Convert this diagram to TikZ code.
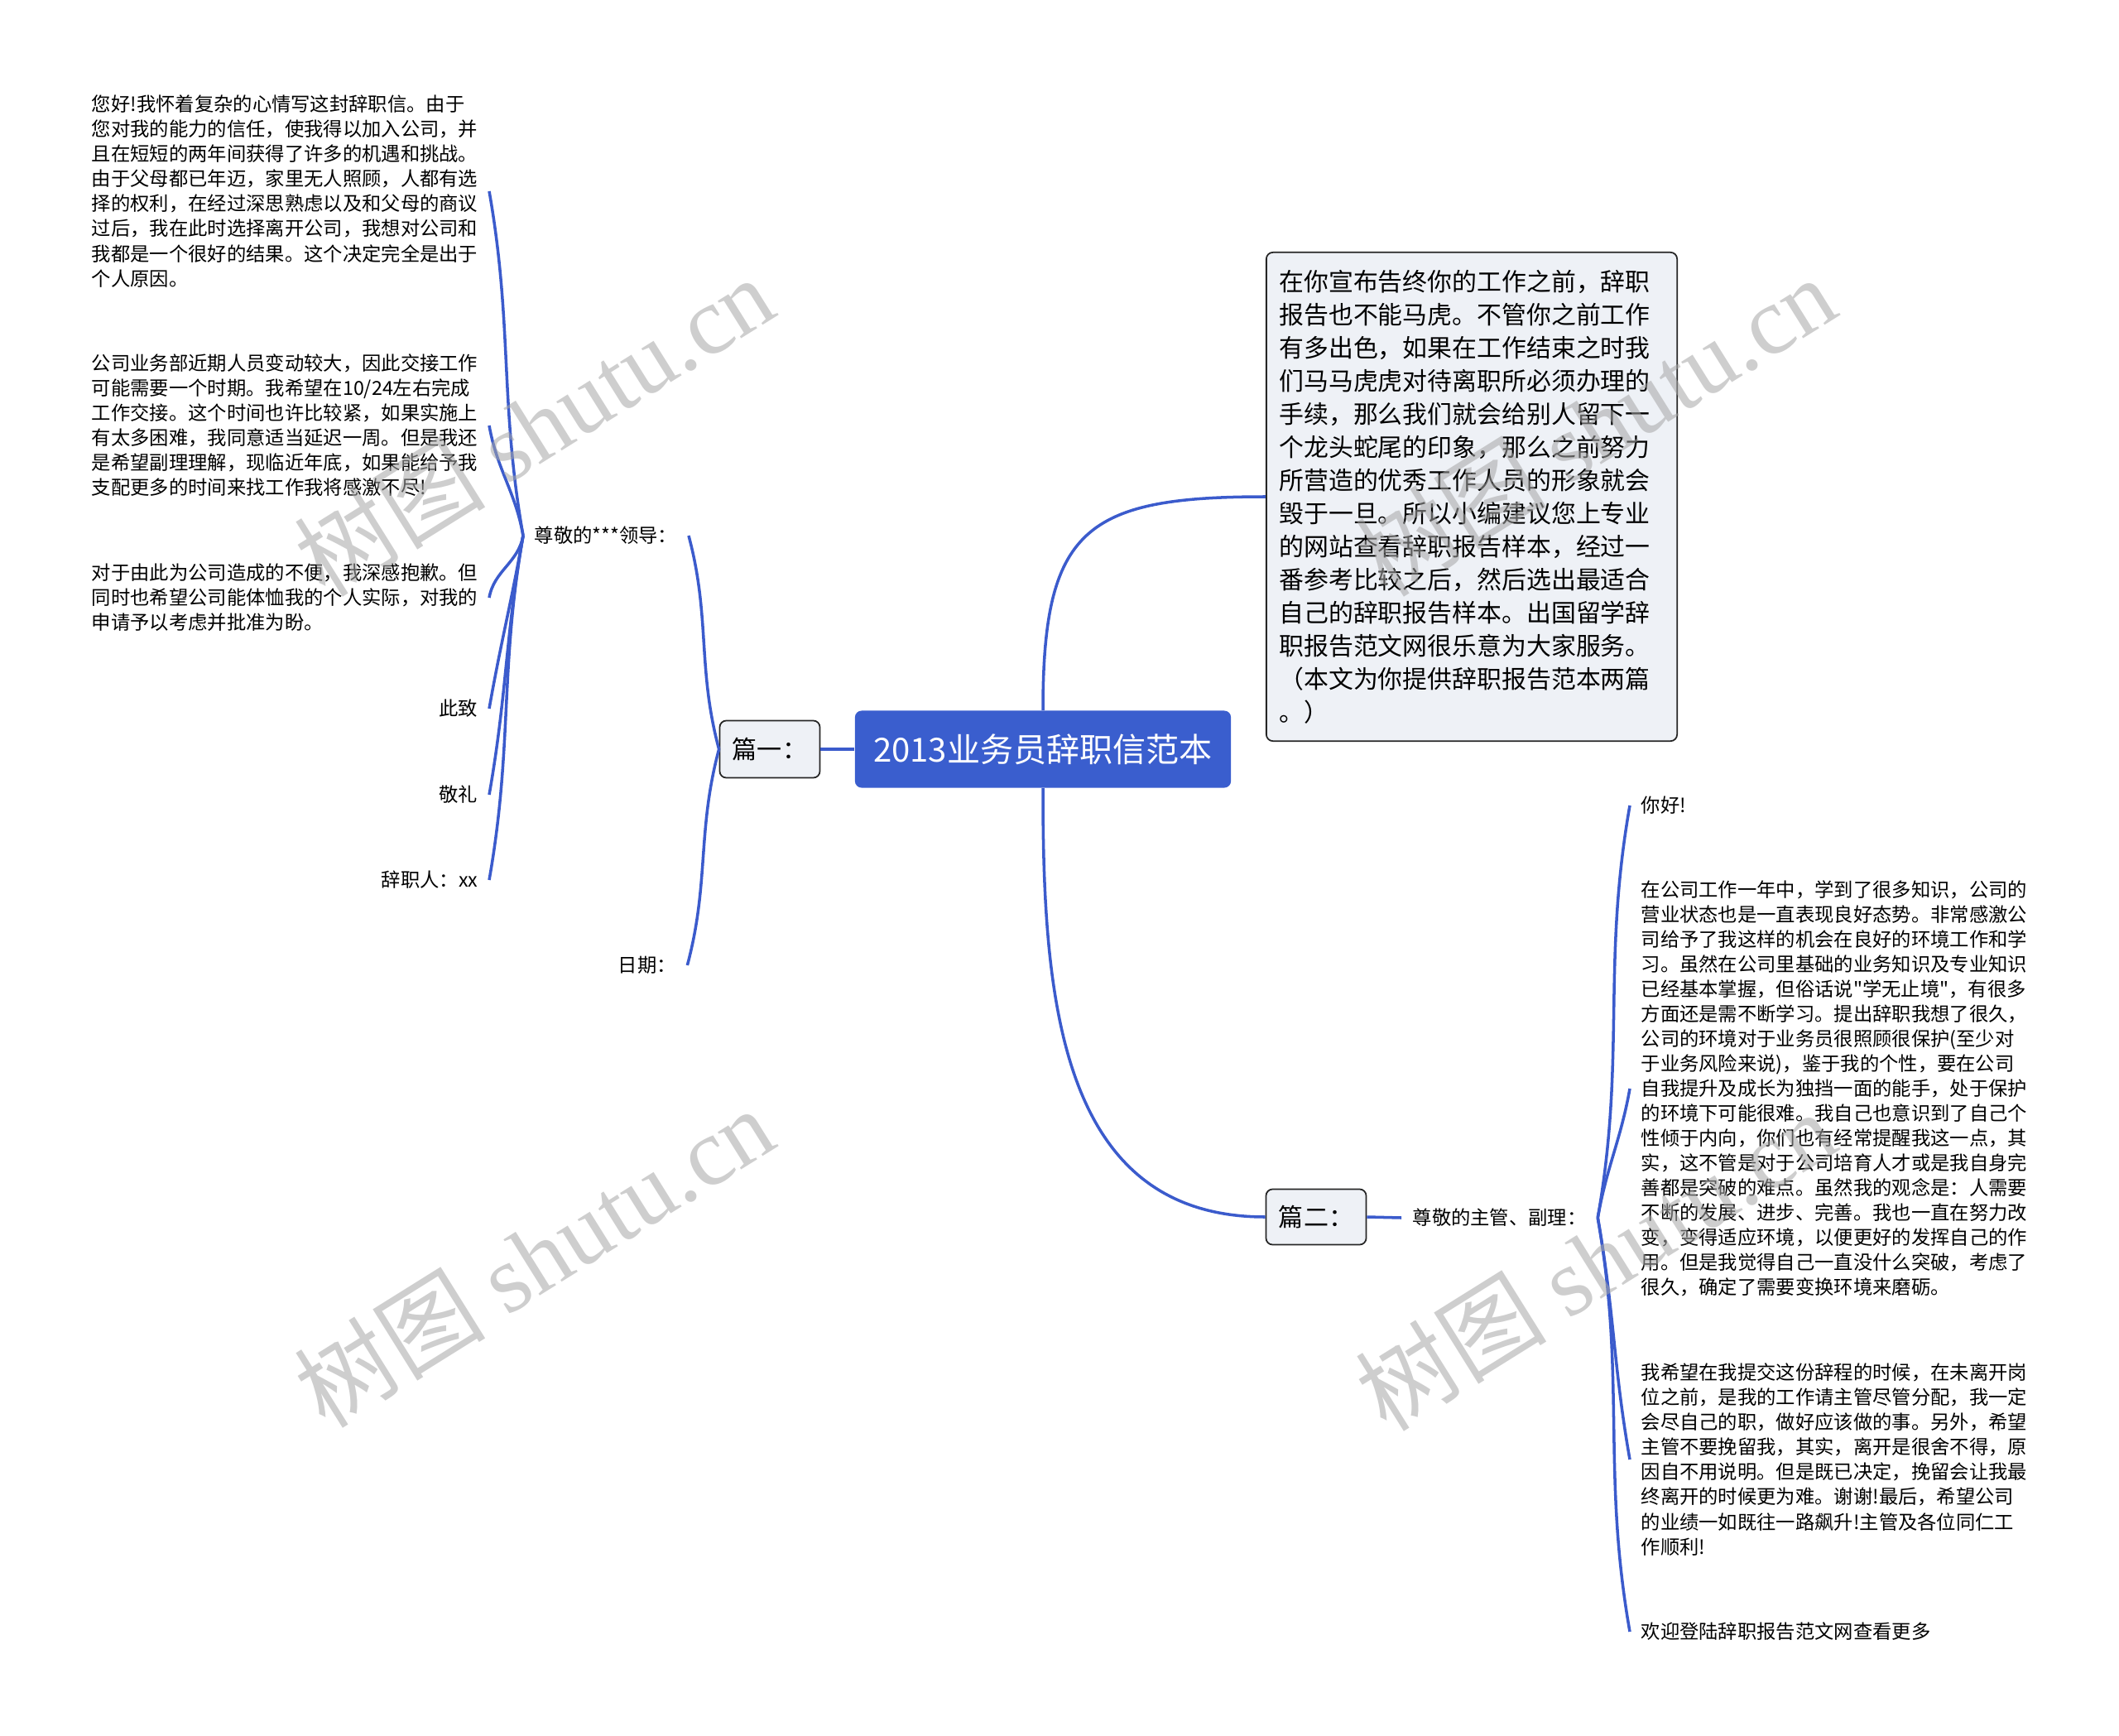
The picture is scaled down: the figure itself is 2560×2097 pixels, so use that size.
\documentclass[tikz,border=0pt]{standalone}
\usepackage{fontspec}
\setmainfont{Noto Sans CJK SC}[Ligatures=TeXOff]
\newfontfamily\wmfont{Liberation Serif}
\usetikzlibrary{positioning}
\definecolor{lineblue}{RGB}{59,91,204}
\definecolor{rootblue}{RGB}{58,94,206}
\definecolor{boxgray}{RGB}{238,241,246}

\begin{document}
\begin{tikzpicture}[x=0.01cm, y=0.01cm,
    link/.style={draw=lineblue, line width=1pt},
    topic/.style={draw=black!85, fill=boxgray, rounded corners=0.08cm, line width=0.5pt},
    leaf/.style={inner xsep=0.13cm, inner ysep=0pt, align=left, font=\fontsize{6.63pt}{8.54pt}\selectfont},
    goup/.style={out=100, in=-80},
    godown/.style={out=-100, in=80},
    wmark/.style={rotate=32, text=black!35, text opacity=0.55, font=\fontsize{33pt}{33pt}\selectfont}]
    \useasboundingbox (0, 0) rectangle (2560, -2097);
    % centre
    \node[fill=rootblue, text=white, rounded corners=0.08cm, minimum width=4.54cm, minimum height=0.93cm,
        font=\fontsize{11.4pt}{13pt}\selectfont] (root) at (1260, -905) {2013业务员辞职信范本};
    \node[topic, text width=4.65cm, inner xsep=0.155cm, minimum height=5.9cm, align=left,
        font=\fontsize{8.5pt}{11.38pt}\selectfont] (intro) at (1778, -600) {在你宣布告终你的工作之前，辞职\\报告也不能马虎。不管你之前工作\\有多出色，如果在工作结束之时我\\们马马虎虎对待离职所必须办理的\\手续，那么我们就会给别人留下一\\个龙头蛇尾的印象，那么之前努力\\所营造的优秀工作人员的形象就会\\毁于一旦。所以小编建议您上专业\\的网站查看辞职报告样本，经过一\\番参考比较之后，然后选出最适合\\自己的辞职报告样本。出国留学辞\\职报告范文网很乐意为大家服务。\\（本文为你提供辞职报告范本两篇\\。）};
    \node[topic, minimum width=1.21cm, minimum height=0.69cm, font=\fontsize{8.54pt}{10pt}\selectfont] (pian1) at (930, -905) {篇一：};
    \node[topic, minimum width=1.21cm, minimum height=0.67cm, font=\fontsize{8.54pt}{10pt}\selectfont] (pian2) at (1590, -1470) {篇二：};
    % first letter
    \node[leaf, anchor=west] (lead) at (632, -647) {尊敬的***领导：};
    \node[leaf, anchor=west] (date) at (733, -1166) {日期：};
    \node[leaf, anchor=east] (p1) at (591, -231) {您好!我怀着复杂的心情写这封辞职信。由于\\您对我的能力的信任，使我得以加入公司，并\\且在短短的两年间获得了许多的机遇和挑战。\\由于父母都已年迈，家里无人照顾，人都有选\\择的权利，在经过深思熟虑以及和父母的商议\\过后，我在此时选择离开公司，我想对公司和\\我都是一个很好的结果。这个决定完全是出于\\个人原因。};
    \node[leaf, anchor=east] (p2) at (591, -514) {公司业务部近期人员变动较大，因此交接工作\\可能需要一个时期。我希望在10/24左右完成\\工作交接。这个时间也许比较紧，如果实施上\\有太多困难，我同意适当延迟一周。但是我还\\是希望副理理解，现临近年底，如果能给予我\\支配更多的时间来找工作我将感激不尽!};
    \node[leaf, anchor=east] (p3) at (591, -722) {对于由此为公司造成的不便，我深感抱歉。但\\同时也希望公司能体恤我的个人实际，对我的\\申请予以考虑并批准为盼。};
    \node[leaf, anchor=east] (zhici) at (591, -856) {此致};
    \node[leaf, anchor=east] (jingli) at (591, -960) {敬礼};
    \node[leaf, anchor=east] (signer) at (591, -1063) {辞职人：xx};
    % second letter
    \node[leaf, anchor=west] (boss) at (1693, -1471) {尊敬的主管、副理：};
    \node[leaf, anchor=west] (hello) at (1969, -973) {你好!};
    \node[leaf, anchor=west] (q1) at (1969, -1315) {在公司工作一年中，学到了很多知识，公司的\\营业状态也是一直表现良好态势。非常感激公\\司给予了我这样的机会在良好的环境工作和学\\习。虽然在公司里基础的业务知识及专业知识\\已经基本掌握，但俗话说"学无止境"，有很多\\方面还是需不断学习。提出辞职我想了很久，\\公司的环境对于业务员很照顾很保护(至少对\\于业务风险来说)，鉴于我的个性，要在公司\\自我提升及成长为独挡一面的能手，处于保护\\的环境下可能很难。我自己也意识到了自己个\\性倾于内向，你们也有经常提醒我这一点，其\\实，这不管是对于公司培育人才或是我自身完\\善都是突破的难点。虽然我的观念是：人需要\\不断的发展、进步、完善。我也一直在努力改\\变，变得适应环境，以便更好的发挥自己的作\\用。但是我觉得自己一直没什么突破，考虑了\\很久，确定了需要变换环境来磨砺。};
    \node[leaf, anchor=west] (q2) at (1969, -1763) {我希望在我提交这份辞程的时候，在未离开岗\\位之前，是我的工作请主管尽管分配，我一定\\会尽自己的职，做好应该做的事。另外，希望\\主管不要挽留我，其实，离开是很舍不得，原\\因自不用说明。但是既已决定，挽留会让我最\\终离开的时候更为难。谢谢!最后，希望公司\\的业绩一如既往一路飙升!主管及各位同仁工\\作顺利!};
    \node[leaf, anchor=west] (more) at (1969, -1971) {欢迎登陆辞职报告范文网查看更多};
    % connectors
    \draw[link] (root.west) -- (pian1.east);
    \draw[link] (root.north) to[out=90, in=180, looseness=1.5] (intro.west);
    \draw[link] (root.south) to[out=-90, in=180, looseness=1.1] (pian2.west);
    \draw[link] (pian1.west) to[out=105, in=-75] (lead.east);
    \draw[link] (pian1.west) to[out=-105, in=75] (date.east);
    \draw[link] (lead.west) to[goup] (p1.east);
    \draw[link] (lead.west) to[goup] (p2.east);
    \draw[link] (lead.west) to[godown] (p3.east);
    \draw[link] (lead.west) to[godown] (zhici.east);
    \draw[link] (lead.west) to[godown] (jingli.east);
    \draw[link] (lead.west) to[godown] (signer.east);
    \draw[link] (pian2.east) -- (boss.west);
    \draw[link] (boss.east) to[out=80, in=-100] (hello.west);
    \draw[link] (boss.east) to[out=80, in=-100] (q1.west);
    \draw[link] (boss.east) to[out=-80, in=100] (q2.west);
    \draw[link] (boss.east) to[out=-80, in=100] (more.west);
    % watermark
    \node[wmark] (wm1) at (645, -514) {树图 {\wmfont shutu.cn}};
    \node[wmark] (wm2) at (1927, -514) {树图 {\wmfont shutu.cn}};
    \node[wmark] (wm3) at (645, -1518) {树图 {\wmfont shutu.cn}};
    \node[wmark] (wm4) at (1927, -1522) {树图 {\wmfont shutu.cn}};
\end{tikzpicture}
\end{document}
